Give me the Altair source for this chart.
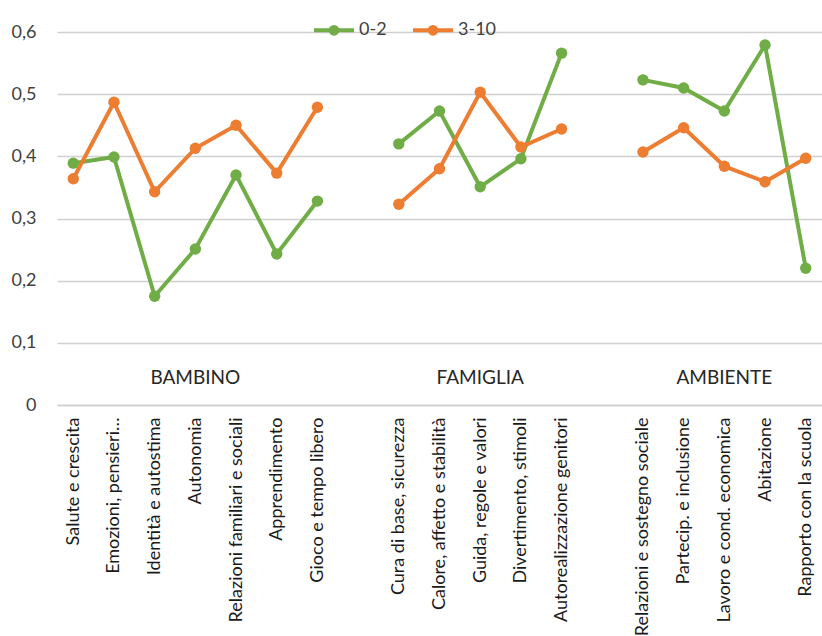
import altair as alt
import pandas as pd

categories = ["Salute e crescita", "Emozioni, pensieri…", "Identità  e autostima", "Autonomia",
              "Relazioni familiari e sociali", "Apprendimento", "Gioco e tempo libero", " ",
              "Cura di base, sicurezza", "Calore, affetto e stabilità", "Guida, regole e valori",
              "Divertimento, stimoli", "Autorealizzazione genitori", "  ",
              "Relazioni e sostegno sociale", "Partecip. e inclusione", "Lavoro e cond. economica",
              "Abitazione", "Rapporto con la scuola"]
groups = ["BAMBINO"] * 7 + [None] + ["FAMIGLIA"] * 5 + [None] + ["AMBIENTE"] * 5
v_0_2 = [0.389, 0.399, 0.175, 0.251, 0.370, 0.243, 0.328, None,
         0.420, 0.473, 0.351, 0.396, 0.566, None,
         0.523, 0.510, 0.473, 0.579, 0.220]
v_3_10 = [0.364, 0.487, 0.343, 0.413, 0.450, 0.373, 0.479, None,
          0.323, 0.380, 0.503, 0.415, 0.444, None,
          0.407, 0.446, 0.384, 0.359, 0.397]
series = ["0-2", "3-10"]
colors = ["#70AD47", "#ED7D31"]
group_labels = ["BAMBINO", "FAMIGLIA", "AMBIENTE"]
group_label_cat = ["Autonomia", "Guida, regole e valori", "Lavoro e cond. economica"]
group_label_y = [0.044, 0.044, 0.044]

rows = []
for name, vals in zip(series, [v_0_2, v_3_10]):
    for c, g, v in zip(categories, groups, vals):
        if v is not None:
            rows.append({"cat": c, "grp": g, "serie": name, "val": v})
df = pd.DataFrame(rows)
lab = pd.DataFrame({"cat": group_label_cat, "txt": group_labels, "y": group_label_y})

FONT = "Lato"
xscale = alt.Scale(domain=categories, padding=0.4)
yscale = alt.Scale(domain=[0, 0.6])

xaxis = alt.Axis(labelAngle=-90, labelPadding=12, ticks=False, domain=True,
                 domainColor="#d0d0d0", domainWidth=1.3, labelLimit=400, labelFontSize=18,
                 labelColor="#1a1a1a", grid=False, labelFont=FONT, title=None)
yaxis = alt.Axis(values=[0, 0.1, 0.2, 0.3, 0.4, 0.5, 0.6],
                 labelExpr="datum.value == 0 ? '0' : replace(format(datum.value, '.1f'), '.', ',')",
                 ticks=False, domain=False, grid=True, gridColor="#d0d0d0", gridWidth=1.3,
                 labelPadding=21, labelFontSize=18, labelColor="#404040",
                 labelFont=FONT, title=None)

lines = alt.Chart(df).mark_line(
    point=alt.OverlayMarkDef(filled=True, size=130, opacity=1), strokeWidth=4
).encode(
    x=alt.X("cat:N", scale=xscale, sort=categories, axis=xaxis),
    y=alt.Y("val:Q", scale=yscale, axis=yaxis),
    color=alt.Color("serie:N", scale=alt.Scale(domain=series, range=colors),
                    legend=alt.Legend(title=None, orient="none", legendX=255, legendY=-24,
                                      direction="horizontal", labelFontSize=18,
                                      labelColor="#404040", labelFont=FONT,
                                      symbolType="M-1,0L1,0M-0.17,0A0.17,0.17,0,1,1,0.17,0A0.17,0.17,0,1,1,-0.17,0",
                                      symbolSize=1600, symbolStrokeWidth=4,
                                      columnPadding=18, labelOffset=3)),
    detail="grp:N",
)

texts = alt.Chart(lab).mark_text(fontSize=19, color="#262626", font=FONT).encode(
    x=alt.X("cat:N", scale=xscale, sort=categories, axis=xaxis),
    y=alt.Y("y:Q", scale=yscale, axis=yaxis),
    text="txt:N",
)

chart = alt.layer(lines, texts).properties(
    width=765, height=373,
    autosize=alt.AutoSizeParams(type="none"),
    padding={"left": 57, "top": 32, "right": 0, "bottom": 231},
).configure(font=FONT).configure_view(stroke=None)

chart.save("out.html", embed_options={"renderer": "svg", "actions": False})
